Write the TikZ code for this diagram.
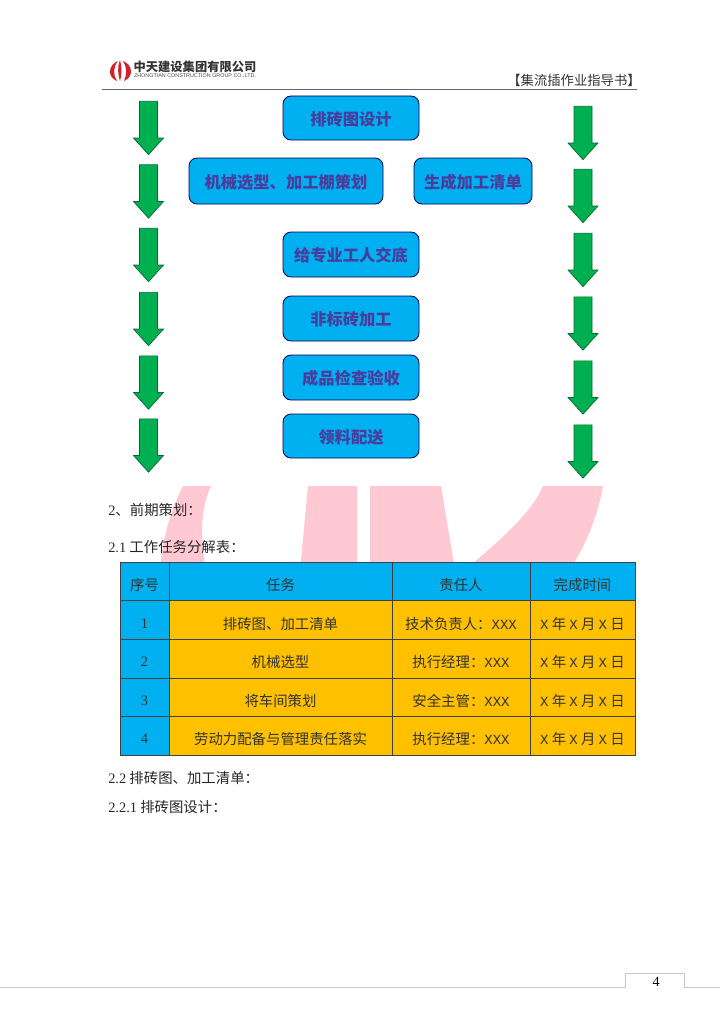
\documentclass[tikz,border=0pt]{standalone}
\usepackage{fontspec}
\setmainfont{Noto Sans CJK SC}
\newfontfamily\latinf{Liberation Serif}
\newfontfamily\logolat{Liberation Sans}
\newfontfamily\monof{Liberation Mono}
\usepackage{xcolor}
\usetikzlibrary{shapes.arrows}
\definecolor{boxblue}{HTML}{00B0F0}
\definecolor{cellorange}{HTML}{FFC000}
\definecolor{arrowgreen}{HTML}{00B050}
\definecolor{markpink}{HTML}{FFC9D3}
\definecolor{logored}{HTML}{D2202C}
\definecolor{boxtext}{HTML}{4A3C9C}
\newcommand\lx[1]{{\monof\fontsize{10.5}{12}\selectfont #1}}
\begin{document}
\begin{tikzpicture}[x=0.75pt,y=-0.75pt,
 b/.style={draw=black!70!blue,fill=boxblue,rounded corners=6pt,line width=0.6pt,text=boxtext,font=\fontsize{12.2}{14}\selectfont\bfseries,align=center,inner sep=0pt,text height=13pt,text depth=2.4pt},
 ar/.style={single arrow,draw=black!40!arrowgreen,fill=arrowgreen,line width=0.5pt,rotate=-90,minimum height=40pt,inner xsep=0pt,inner ysep=6.5pt,single arrow head extend=4.5pt,single arrow tip angle=84},
 t/.style={anchor=west,text=black!85,font=\fontsize{10.8}{12}\selectfont,inner sep=0pt},
 c/.style={text=black!80,font=\fontsize{10.8}{12}\selectfont,inner sep=0pt}]
\useasboundingbox (0,0) rectangle (724,1024);
% watermark
\begin{scope}
\clip (100,486) rectangle (640,570);
\fill[markpink] (183,486) .. controls (170,512) and (162,540) .. (160,570) -- (206,570) .. controls (200,540) and (200,510) .. (211,486) -- cycle;
\fill[markpink] (308,486) -- (300,570) -- (357,570) -- (357,486) -- cycle;
\fill[markpink] (370,486) -- (370,570) -- (455,570) -- (441,486) -- cycle;
\fill[markpink] (543,486) .. controls (530,515) and (500,540) .. (465,570) -- (570,570) .. controls (588,540) and (598,515) .. (603,486) -- cycle;
\end{scope}
% header
\fill[logored] (118,61) .. controls (108,65) and (107,77) .. (117,81) .. controls (113,75) and (113,67) .. (118,61) -- cycle;
\fill[logored] (120,60) .. controls (117,67) and (118,75) .. (120,81) .. controls (122,75) and (122,67) .. (120,60) -- cycle;
\fill[logored] (123,61) .. controls (133,65) and (134,77) .. (124,81) .. controls (127,75) and (127,67) .. (123,61) -- cycle;
\node[text=black!80,font=\fontsize{9.2}{11}\selectfont\bfseries,inner sep=0pt] (logo) at (195,67) {中天建设集团有限公司};
\node[text=black!70,font=\fontsize{4.05}{5}\selectfont\logolat,inner sep=0pt] (logoen) at (195,76) {ZHONGTIAN CONSTRUCTION GROUP CO.,LTD.};
\node[c,font=\fontsize{10}{12}\selectfont] (head) at (574,80) {【集流插作业指导书】};
\draw[black!60,line width=0.6pt] (102,89.5) -- (637,89.5);
% flow
\node[b,minimum width=102pt,minimum height=33pt] (design) at (351,118) {排砖图设计};
\node[b,minimum width=145.5pt,minimum height=34.5pt] (mech) at (286,181) {机械选型、加工棚策划};
\node[b,minimum width=88.5pt,minimum height=34.5pt] (list) at (473,181) {生成加工清单};
\node[b,minimum width=102pt,minimum height=33.75pt] (brief) at (351,254.5) {给专业工人交底};
\node[b,minimum width=102pt,minimum height=33.75pt] (cut) at (351,318.5) {非标砖加工};
\node[b,minimum width=102pt,minimum height=33.75pt] (check) at (351,377.5) {成品检查验收};
\node[b,minimum width=102pt,minimum height=33pt] (send) at (351,436) {领料配送};
\foreach \i/\y in {1/123,2/186.5,3/250,4/314,5/377.5,6/440.5}
 \node[ar] (l\i) at (148.5,\y) {};
\foreach \i/\y in {1/128,2/191,3/255,4/318.5,5/382.5,6/446.5}
 \node[ar] (r\i) at (583,\y) {};
% text
\node[t] (sec2) at (108,510) {{\latinf 2}、前期策划：};
\node[t] (sec21) at (108,547) {{\latinf 2.1} 工作任务分解表：};
\node[t] (sec22) at (108,778) {{\latinf 2.2} 排砖图、加工清单：};
\node[t] (sec221) at (108,807) {{\latinf 2.2.1} 排砖图设计：};
% table
\fill[boxblue] (120,562) rectangle (635,600);
\fill[boxblue] (120,600) rectangle (169,755);
\fill[cellorange] (169,600) rectangle (635,755);
\draw[black!75,line width=0.6pt] (120,562) rectangle (635,755);
\foreach \y in {600,639,678,716} \draw[black!75,line width=0.6pt] (120,\y) -- (635,\y);
\foreach \x in {169,392,530} \draw[black!75,line width=0.6pt] (\x,562) -- (\x,755);
\node[c] (h1) at (144.5,585) {序号};
\node[c] (h2) at (280.5,585) {任务};
\node[c] (h3) at (461,585) {责任人};
\node[c] (h4) at (582.5,585) {完成时间};
\foreach \i/\y/\task/\who in {1/624/排砖图、加工清单/技术负责人,2/662/机械选型/执行经理,3/701/将车间策划/安全主管,4/739/劳动力配备与管理责任落实/执行经理}{
 \node[c] (n\i) at (144.5,\y) {{\latinf\i}};
 \node[c] (task\i) at (280.5,\y) {\task};
 \node[c] (who\i) at (461,\y) {\who：\lx{XXX}};
 \node[c] (date\i) at (582.5,\y) {\lx{X} 年 \lx{X} 月 \lx{X} 日};
}
% footer
\draw[black!22,line width=0.6pt] (0,987.5) -- (625.5,987.5) -- (625.5,973.5) -- (684,973.5) -- (684,987.5) -- (720,987.5);
\node[font=\fontsize{10.5}{12}\selectfont\latinf,inner sep=0pt] (page) at (656,982) {4};
\end{tikzpicture}
\end{document}
